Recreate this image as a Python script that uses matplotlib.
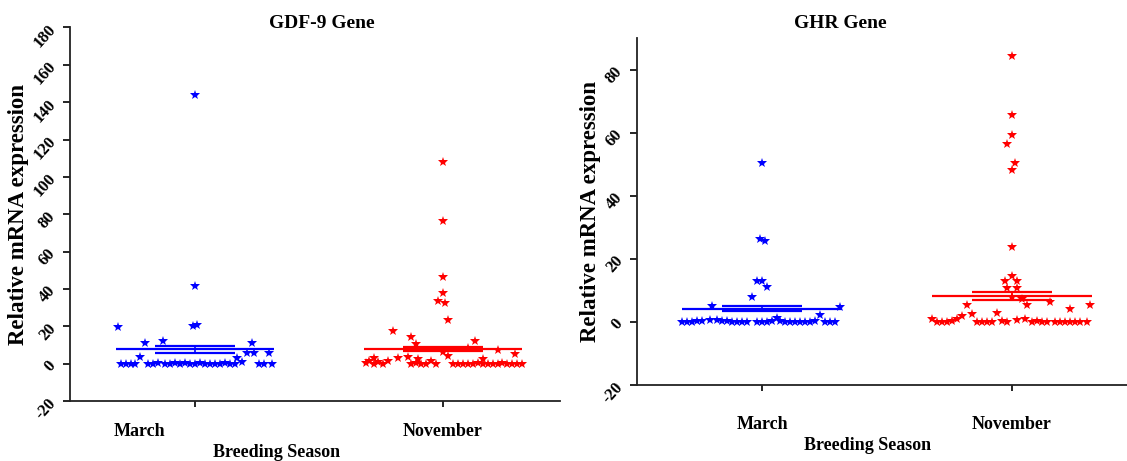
import numpy as np
import matplotlib.pyplot as plt
from matplotlib.transforms import ScaledTranslation

plt.rcParams['font.family'] = ['Liberation Serif', 'DejaVu Serif']
plt.rcParams['font.weight'] = 'bold'
plt.rcParams['axes.unicode_minus'] = False

seasons = ["March", "November"]

# GDF-9 gene, March (values and horizontal scatter offsets)
gdf_mar_vals = [144, 41.5, 20.2, 20.8, 19.5, 11.2, 12, 3.7, 11, 3.2, 5.5, 5.5, 5.5, 1,
                0, 0, 0, 0, 0, 0, 0.3, 0, 0, 0.2, 0, 0.4, 0, 0, 0.2, 0,
                0, 0, 0, 0.3, 0, 0, 0, 0, 0]
gdf_mar_off = [0, 0, -0.01, 0.01, -0.31, -0.20, -0.13, -0.22, 0.23, 0.17, 0.21, 0.24, 0.30, 0.19,
               -0.30, -0.28, -0.26, -0.24, -0.19, -0.17, -0.15, -0.12, -0.10, -0.08, -0.06, -0.04,
               -0.02, 0, 0.02, 0.04, 0.06, 0.08, 0.10, 0.12, 0.14, 0.16, 0.26, 0.28, 0.31]

# GDF-9 gene, November
gdf_nov_vals = [108, 76.5, 46.5, 38, 33.5, 32.6, 23.5, 17.6, 14.4, 10.7, 12.3, 7.5, 5.3, 8.6,
                6, 4.3, 3, 3, 3.5, 2.5, 2.5,
                0.5, 1.5, 0, 0.8, 0, 1.2,
                0, 0.5, 0, 0, 1.5, 0,
                0, 0, 0, 0, 0, 0.5, 0, 0, 0, 0, 0.6, 0, 0, 0, 0]
gdf_nov_off = [0, 0, 0, 0, -0.02, 0.01, 0.02, -0.20, -0.13, -0.11, 0.13, 0.22, 0.29, 0.10,
               0, 0.02, -0.28, -0.18, -0.14, -0.10, 0.16,
               -0.31, -0.30, -0.28, -0.26, -0.24, -0.22,
               -0.13, -0.11, -0.09, -0.07, -0.05, -0.03,
               0.04, 0.06, 0.08, 0.10, 0.12, 0.14, 0.16, 0.18, 0.20, 0.22, 0.24, 0.26, 0.28, 0.30, 0.32]

# GHR gene, March
ghr_mar_vals = [50.3, 26.4, 25.5, 13, 13, 11, 8, 4.9, 4.8, 2.2, 1.3,
                0, 0, 0, 0.2, 0.4, 0.5, 0.6, 0.2, 0.3, 0, 0, 0, 0, 0,
                0, 0, 0.2, 0.4, 0, 0, 0, 0, 0, 0, 0.2, 0, 0, 0, 0]
ghr_mar_off = [0, -0.01, 0.01, -0.02, 0, 0.02, -0.04, -0.20, 0.31, 0.23, 0.06,
               -0.32, -0.30, -0.28, -0.26, -0.24, -0.21, -0.18, -0.16, -0.14, -0.12, -0.10, -0.08, -0.06,
               -0.02, 0, 0.02, 0.04, 0.07, 0.09, 0.11, 0.13, 0.15, 0.17, 0.19, 0.21, 0.25, 0.27, 0.29]

# GHR gene, November
ghr_nov_vals = [84.4, 65.6, 59.2, 56.4, 50.3, 48, 23.9, 14.7, 13, 13, 10.8, 10.8, 8, 7.3, 5.4, 6.4,
                5.4, 5.4, 4.2, 2.9, 1.9, 2.5, 1.0,
                0.8, 0, 0, 0, 0.2, 0, 0, 0, 0, 0.3, 0, 0.5, 0.9, 0, 0.4, 0, 0,
                0, 0, 0, 0, 0, 0, 0]
ghr_nov_off = [0, 0, 0, -0.02, 0.01, 0, 0, 0, -0.03, 0.02, -0.02, 0.02, 0, 0.04, 0.06, 0.15,
               -0.18, 0.31, 0.23, -0.06, -0.20, -0.16, -0.22,
               -0.32, -0.30, -0.28, -0.26, -0.24, -0.14, -0.12, -0.10, -0.08, -0.04, -0.02, 0.02,
               0.05, 0.08, 0.10, 0.12, 0.14, 0.17, 0.19, 0.21, 0.23, 0.25, 0.27, 0.30]

# mean and SEM per season
gdf_mean = [7.6, 8.0]
gdf_sem = [1.9, 1.1]
ghr_mean = [4.1, 8.3]
ghr_sem = [0.8, 1.3]

colors = ["blue", "red"]

fig = plt.figure(figsize=(11.27, 4.61), dpi=100)
ax1 = fig.add_axes([70/1127, 1 - 401/461, 490/1127, 373.5/461])
ax2 = fig.add_axes([637/1127, 1 - 385/461, 490/1127, 347/461])


def draw_panel(ax, groups, means, sems):
    for i, (vals, offs) in enumerate(groups):
        x = i + np.array(offs[:len(vals)])
        ax.plot(x, vals[:len(x)], linestyle='none', marker='*', markersize=7,
                color=colors[i], markeredgewidth=0)
        m, s = means[i], sems[i]
        ax.hlines(m, i - 0.32, i + 0.32, color=colors[i], lw=1.6)
        ax.hlines([m - s, m + s], i - 0.16, i + 0.16, color=colors[i], lw=1.6)
        ax.vlines(i, m - s, m + s, color=colors[i], lw=1.2)
    for side in ['top', 'right']:
        ax.spines[side].set_visible(False)
    for side in ['left', 'bottom']:
        ax.spines[side].set_linewidth(1.3)
        ax.spines[side].set_color('#222222')
    ax.set_xticks([0, 1])
    ax.tick_params(axis='y', direction='out', length=5, width=1.2, pad=3,
                   labelsize=12, labelrotation=48)
    ax.tick_params(axis='x', direction='out', length=4, width=1.2, labelsize=13)
    ax.set_ylabel("Relative mRNA expression", fontsize=16.5, fontweight='bold')


draw_panel(ax1, [(gdf_mar_vals, gdf_mar_off), (gdf_nov_vals, gdf_nov_off)], gdf_mean, gdf_sem)
ax1.set_xlim(-0.504, 1.472)
ax1.set_ylim(-20, 180)
ax1.set_yticks(np.arange(-20, 181, 20))
ax1.set_xticklabels(seasons)
ax1.tick_params(axis='x', pad=12)
lab = ax1.get_xticklabels()[0]
lab.set_transform(lab.get_transform() + ScaledTranslation(-0.56, 0, fig.dpi_scale_trans))
ax1.yaxis.set_label_coords(-0.083, 0.5)

draw_panel(ax2, [(ghr_mar_vals, ghr_mar_off), (ghr_nov_vals, ghr_nov_off)], ghr_mean, ghr_sem)
ax2.set_xlim(-0.5, 1.46)
ax2.set_ylim(-20, 90)
ax2.set_yticks(np.arange(-20, 81, 20))
ax2.set_xticklabels(seasons)
ax2.tick_params(axis='x', pad=18)
ax2.yaxis.set_label_coords(-0.073, 0.5)

fig.text(322/1127, 1 - 23/461, "GDF-9 Gene", ha='center', va='center', fontsize=14, fontweight='bold')
fig.text(840/1127, 1 - 23/461, "GHR Gene", ha='center', va='center', fontsize=14, fontweight='bold')
fig.text(277/1127, 1 - 452/461, "Breeding Season", ha='center', va='center', fontsize=13, fontweight='bold')
fig.text(868/1127, 1 - 445/461, "Breeding Season", ha='center', va='center', fontsize=13, fontweight='bold')

fig.savefig("out.png", dpi=100)
